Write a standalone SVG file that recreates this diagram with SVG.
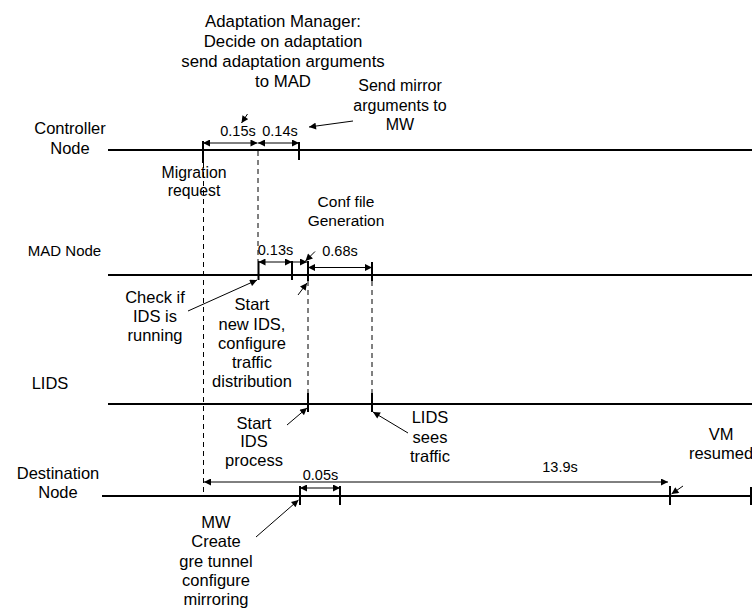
<svg xmlns="http://www.w3.org/2000/svg" width="752" height="609" viewBox="0 0 752 609">
<style>
text{font-family:"Liberation Sans",Arial,sans-serif;font-size:16.5px;fill:#000;text-anchor:middle}
text.n{font-size:14.5px}
.tl{stroke:#000;stroke-width:2.2;fill:none}
.tk{stroke:#000;stroke-width:2;fill:none}
.dim{stroke:#000;stroke-width:1;fill:none;marker-start:url(#ah);marker-end:url(#ah)}
.one{stroke:#000;stroke-width:1;fill:none;marker-end:url(#ah)}
.ds{stroke:#000;stroke-width:1;fill:none;stroke-dasharray:5 4}
</style>
<defs>
<marker id="ah" viewBox="0 0 10 10" refX="10" refY="5" markerWidth="8" markerHeight="7" markerUnits="userSpaceOnUse" orient="auto-start-reverse">
<path d="M0 0 L10 5 L0 10 z" fill="#000"/>
</marker>
</defs>
<rect width="752" height="609" fill="#fff"/>
<g id="timelines">
<path class="tl" d="M108 150H752"/>
<path class="tl" d="M108 275H752"/>
<path class="tl" d="M108 404H752"/>
<path class="tl" d="M102 496H752"/>
</g>
<g id="ticks">
<path class="tk" d="M203 141V163M299 142V160"/>
<path class="tk" d="M258.5 261V280M292 261V280M308 261V281M372 262V281"/>
<path class="tk" d="M308 393V412M372 393V412"/>
<path class="tk" d="M300 486V505M340 486V505M670 486V505M751 487V505"/>
</g>
<g id="connectors">
<path class="ds" d="M203.5 163V496"/>
<path class="ds" d="M258 151V261"/>
<path class="ds" d="M308 281V393"/>
<path class="ds" d="M372 281V393"/>
<path class="dim" d="M203 143H257.5"/>
<path class="dim" d="M258 143H299"/>
<path class="dim" d="M258.5 262H292"/>
<path class="one" d="M292 262H307"/>
<path class="dim" d="M308 267.5H372"/>
<path class="dim" d="M300 488H340"/>
<path class="dim" d="M204 482H668"/>
<path class="one" d="M247.5 114L241.5 123"/>
<path class="one" d="M353 121L309 127"/>
<path class="one" d="M315 251.5L305.5 261"/>
<path class="one" d="M188 311L257 280"/>
<path class="one" d="M298 295L307 283"/>
<path class="one" d="M287 425L307 408"/>
<path class="one" d="M408 433L373 412"/>
<path class="one" d="M256 537L298.5 500"/>
<path class="one" d="M683 486L671.5 494"/>
</g>
<g id="node-controller"><text x="70" y="134">Controller</text><text x="70" y="154">Node</text></g>
<g id="node-mad"><text x="64.5" y="256" style="font-size:15px">MAD Node</text></g>
<g id="node-lids"><text x="50" y="389">LIDS</text></g>
<g id="node-destination"><text x="58" y="478.5">Destination</text><text x="58" y="497.5">Node</text></g>
<g id="label-adaptation"><text x="283" y="27" style="font-size:16.8px">Adaptation Manager:</text><text x="283" y="47" style="font-size:16.8px">Decide on adaptation</text><text x="283" y="67" style="font-size:16.8px">send adaptation arguments</text><text x="283" y="86.5" style="font-size:16.8px">to MAD</text></g>
<g id="label-mirror"><text x="400" y="91" style="font-size:16px">Send mirror</text><text x="400" y="110.5" style="font-size:16px">arguments to</text><text x="400" y="130" style="font-size:16px">MW</text></g>
<g id="label-migration"><text x="194" y="177.5" style="font-size:15.8px">Migration</text><text x="194" y="196" style="font-size:15.8px">request</text></g>
<g id="label-conf"><text x="346" y="207" style="font-size:15.5px">Conf file</text><text x="346" y="226" style="font-size:15.5px">Generation</text></g>
<g id="label-check"><text x="155" y="302.5">Check if</text><text x="155" y="321.5">IDS is</text><text x="155" y="340.5">running</text></g>
<g id="label-startnew"><text x="252" y="310">Start</text><text x="252" y="329.5">new IDS,</text><text x="252" y="348.5">configure</text><text x="252" y="367.5">traffic</text><text x="252" y="386.7">distribution</text></g>
<g id="label-startids"><text x="254" y="428.5">Start</text><text x="254" y="447">IDS</text><text x="254" y="465.5">process</text></g>
<g id="label-lidssees"><text x="430" y="423">LIDS</text><text x="430" y="442.5">sees</text><text x="430" y="462">traffic</text></g>
<g id="label-vm"><text x="721" y="439.5">VM</text><text x="721" y="458.5">resumed</text></g>
<g id="label-mw"><text x="216" y="527.5">MW</text><text x="216" y="547">Create</text><text x="216" y="566.5">gre tunnel</text><text x="216" y="586">configure</text><text x="216" y="605">mirroring</text></g>
<g id="durations">
<text class="n" x="238" y="136">0.15s</text><text class="n" x="280" y="136">0.14s</text>
<text class="n" x="275.5" y="255">0.13s</text><text class="n" x="340" y="256">0.68s</text>
<text class="n" x="320.5" y="480">0.05s</text><text class="n" x="560" y="472">13.9s</text>
</g>
</svg>
